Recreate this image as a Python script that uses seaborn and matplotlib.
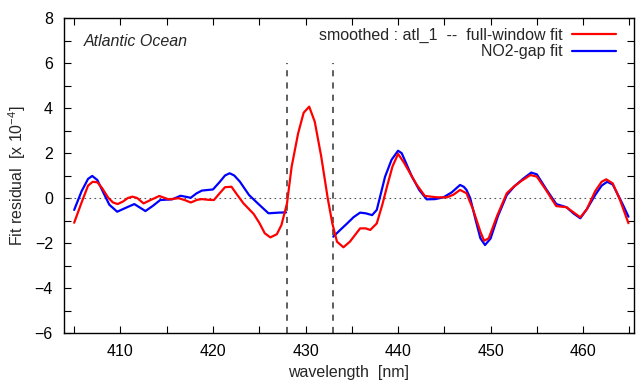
import numpy as np
import pandas as pd
import matplotlib
matplotlib.use("Agg")
import matplotlib.pyplot as plt
import seaborn as sns
from matplotlib.ticker import MultipleLocator
from matplotlib.lines import Line2D

# === Data ===
red_wl = [405.0, 405.8, 406.5, 407.0, 407.5, 408.0, 408.7, 409.2, 409.7, 410.3,
          410.8, 411.3, 411.8, 412.5, 413.2, 414.2, 415.2, 416.3, 417.0, 417.6,
          418.3, 418.8, 419.5, 420.1, 420.7, 421.3, 422.0, 422.6, 423.3, 424.4,
          425.0, 425.6, 426.2, 426.9, 427.4, 428.0, 428.5, 429.2, 429.8, 430.4,
          431.0, 431.7, 432.4, 432.9, 433.4, 434.1, 434.8, 435.9, 436.5, 437.0,
          437.7, 438.3, 438.8, 439.4, 440.0, 440.6, 441.3, 442.0, 442.9, 444.2,
          445.3, 446.0, 446.7, 447.4, 448.1, 448.9, 449.3, 449.8, 450.7, 451.75,
          452.5, 453.3, 454.3, 455.0, 456.0, 457.1, 458.2, 459.0, 459.7, 460.4,
          461.3, 462.0, 462.5, 463.2, 464.0, 464.9]
red_res = [-1.10, -0.20, 0.55, 0.72, 0.70, 0.45, 0.00, -0.20, -0.27, -0.15,
           0.00, 0.06, 0.00, -0.24, -0.10, 0.09, -0.06, -0.01, -0.10, -0.20,
           -0.08, -0.05, -0.08, -0.09, 0.20, 0.48, 0.50, 0.15, -0.24, -0.71,
           -1.10, -1.57, -1.75, -1.61, -1.20, -0.24, 1.39, 2.87, 3.79, 4.06,
           3.39, 1.84, -0.01, -1.13, -1.94, -2.19, -1.94, -1.35, -1.35, -1.42,
           -1.13, -0.30, 0.50, 1.40, 1.96, 1.60, 1.10, 0.60, 0.09, 0.03,
           0.03, 0.15, 0.36, 0.21, -0.50, -1.50, -1.90, -1.79, -0.80, 0.21,
           0.50, 0.75, 1.02, 0.95, 0.35, -0.36, -0.41, -0.65, -0.86, -0.50,
           0.30, 0.72, 0.83, 0.65, -0.10, -1.12]

blue_wl_a = [405.0, 405.8, 406.5, 406.95, 407.5, 408.2, 408.8, 409.65, 410.5, 411.5,
             412.0, 412.7, 413.5, 414.3, 415.6, 416.5, 417.6, 418.2, 418.8, 420.0,
             420.7, 421.3, 421.8, 422.3, 422.9, 423.9, 425.0, 426.0, 427.1, 427.9]
blue_res_a = [-0.53, 0.30, 0.85, 0.98, 0.80, 0.20, -0.30, -0.61, -0.45, -0.27,
              -0.40, -0.58, -0.35, -0.09, -0.06, 0.10, 0.01, 0.20, 0.33, 0.38,
              0.70, 1.00, 1.10, 1.00, 0.73, 0.13, -0.30, -0.68, -0.65, -0.64]

blue_wl_b = [433.0, 433.8, 434.5, 435.2, 435.9, 436.5, 437.2, 437.7, 438.6, 439.3,
             440.0, 440.4, 441.5, 442.3, 443.1, 444.0, 444.9, 445.8, 446.7, 447.1,
             447.4, 447.8, 448.4, 448.9, 449.4, 450.0, 450.8, 451.75, 452.6, 453.5,
             454.4, 455.0, 456.0, 457.1, 458.2, 459.0, 459.7, 460.4, 461.3, 462.0,
             462.6, 463.2, 463.6, 464.3, 464.9]
blue_res_b = [-1.72, -1.40, -1.13, -0.85, -0.65, -0.68, -0.76, -0.53, 0.95, 1.70,
              2.10, 1.99, 0.95, 0.35, -0.06, -0.05, 0.03, 0.25, 0.58, 0.50,
              0.36, -0.01, -1.00, -1.79, -2.09, -1.80, -0.80, 0.13, 0.53, 0.85,
              1.13, 1.05, 0.40, -0.27, -0.41, -0.70, -0.90, -0.50, 0.13, 0.55,
              0.72, 0.60, 0.28, -0.30, -0.83]

gap_edges = [428.0, 433.0]

RED = "#ff0000"
BLUE = "#0000ff"
FS = 11.5

sns.set_theme(style="ticks")
plt.rcParams["font.family"] = ["Liberation Sans", "DejaVu Sans"]
plt.rcParams["mathtext.fontset"] = "custom"
plt.rcParams["mathtext.rm"] = "Liberation Sans"
plt.rcParams["mathtext.it"] = "Liberation Sans:italic"

fig = plt.figure(figsize=(6.37, 3.83), dpi=100)
ax = fig.add_axes([64 / 637, 50 / 383, 570 / 637, 315 / 383])

# reference lines
ax.axhline(0, color="#555555", lw=0.8, ls=(0, (1.5, 3)), zorder=1)
for x in gap_edges:
    ax.vlines(x, -6, 6, color="#333333", lw=1.1, ls=(0, (4, 4)), zorder=1)

red_df = pd.DataFrame({"wl": red_wl, "res": red_res})
blue_a = pd.DataFrame({"wl": blue_wl_a, "res": blue_res_a})
blue_b = pd.DataFrame({"wl": blue_wl_b, "res": blue_res_b})

sns.lineplot(data=red_df, x="wl", y="res", color=RED, lw=1.6, sort=False,
             estimator=None, ax=ax, zorder=3)
sns.lineplot(data=blue_a, x="wl", y="res", color=BLUE, lw=1.6, sort=False,
             estimator=None, ax=ax, zorder=2)
sns.lineplot(data=blue_b, x="wl", y="res", color=BLUE, lw=1.6, sort=False,
             estimator=None, ax=ax, zorder=2)

ax.set_xlim(403.9, 465.5)
ax.set_ylim(-6, 8)
ax.xaxis.set_major_locator(MultipleLocator(10))
ax.xaxis.set_minor_locator(MultipleLocator(5))
ax.yaxis.set_major_locator(MultipleLocator(2))
ax.yaxis.set_minor_locator(MultipleLocator(1))
ax.tick_params(which="both", direction="in", top=True, right=True,
               labelsize=FS, colors="black", width=0.8)
ax.tick_params(which="major", length=5, pad=8)
ax.tick_params(which="minor", length=5)
for s in ax.spines.values():
    s.set_color("black")
    s.set_linewidth(1.0)

ax.set_xlabel("wavelength  [nm]", fontsize=FS, labelpad=4)
ax.set_ylabel(r"Fit residual  [x 10$^{-4}$]", fontsize=FS, labelpad=5)

ax.text(0.035, 0.925, "Atlantic Ocean", transform=ax.transAxes, fontsize=FS,
        style="italic", ha="left", va="center")

handles = [Line2D([], [], color=RED, lw=1.6), Line2D([], [], color=BLUE, lw=1.6)]
labels = ["smoothed : atl_1  --  full-window fit", "NO2-gap fit"]
ax.legend(handles, labels, loc="upper right", frameon=False, markerfirst=False,
          fontsize=FS, handlelength=2.75, handletextpad=0.6, labelspacing=0.1,
          borderaxespad=0.2, bbox_to_anchor=(0.985, 1.0))

fig.savefig("out.png", dpi=100)
